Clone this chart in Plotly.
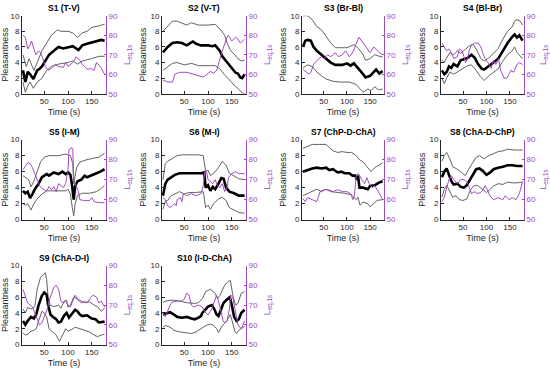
import plotly.graph_objects as go

TITLES = ["S1 (T-V)", "S2 (V-T)", "S3 (Br-Bl)", "S4 (Bl-Br)", "S5 (I-M)",
          "S6 (M-I)", "S7 (ChP-D-ChA)", "S8 (ChA-D-ChP)", "S9 (ChA-D-I)", "S10 (I-D-ChA)"]
X_TICKS = [50, 100, 150]
Y_TICKS = [0, 2, 4, 6, 8, 10]
LEQ_TICKS = [50, 60, 70, 80, 90]

# (time s, value) readings
S1_MEAN = [(5,3.0),(10,1.5),(15,2.8),(20,2.5),(27,1.9),(35,3.0),(40,3.2),(45,3.5),(55,4.5),(60,5.0),(70,5.5),(80,6.0),(90,5.8),(100,6.0),(110,6.1),(122,5.6),(130,6.2),(140,6.4),(150,6.6),(160,6.8),(170,6.9),(177,6.8)]
S1_UP = [(5,5.0),(12,3.5),(18,4.5),(28,3.0),(35,4.0),(45,5.5),(55,6.5),(65,7.5),(78,8.2),(85,8.0),(100,8.0),(110,7.8),(120,7.2),(130,7.8),(140,8.0),(150,8.5),(165,8.7),(177,8.9)]
S1_LO = [(5,1.5),(10,0.2),(15,1.0),(20,1.5),(27,0.7),(35,1.5),(45,2.0),(55,3.0),(65,3.5),(80,3.8),(100,4.0),(110,4.2),(120,3.8),(130,4.2),(150,4.5),(165,4.8),(177,4.8)]
S1_LEQ = [(5,80),(10,79),(15,73),(20,75),(23,77),(28,73),(32,70),(38,72),(42,71),(47,68),(52,64),(58,62),(65,63),(72,65),(80,64),(90,63.5),(95,66),(100,64),(110,66),(117,69),(125,67),(130,65),(135,64),(140,62.5),(148,63),(155,62),(160,66),(168,64),(172,62),(177,60)]

S2_MEAN = [(5,5.3),(15,6.0),(25,6.5),(35,6.6),(45,6.5),(55,6.2),(60,6.4),(68,6.7),(75,6.4),(85,6.2),(100,6.2),(110,6.1),(115,6.2),(120,5.8),(125,5.5),(130,4.8),(140,4.0),(150,3.3),(158,2.7),(163,2.6),(168,2.1),(172,2.0),(177,2.5)]
S2_UP = [(5,8.0),(15,8.7),(25,9.3),(35,9.3),(45,9.0),(55,8.8),(65,9.1),(72,9.0),(80,8.8),(100,8.8),(115,8.9),(125,8.3),(135,7.5),(140,6.5),(148,5.5),(155,5.1),(163,4.5),(170,4.2),(177,4.3)]
S2_LO = [(5,3.0),(15,3.5),(25,3.9),(35,4.0),(50,3.7),(65,3.9),(80,3.6),(100,3.6),(115,3.6),(125,3.2),(135,2.4),(145,1.8),(155,1.1),(163,0.7),(172,0.1),(177,0.0)]
S2_LEQ = [(5,57),(15,56),(25,56),(30,60),(40,61),(55,61),(70,60),(90,58.5),(98,60),(105,61.5),(112,60.5),(118,62),(123,66),(130,72),(140,79),(143,80),(150,77),(158,79),(163,78),(168,76),(177,78)]

S3_MEAN = [(5,6.0),(10,6.8),(15,6.9),(22,6.8),(28,6.0),(35,5.5),(45,5.0),(55,4.5),(65,4.0),(75,3.7),(90,3.7),(100,3.9),(108,3.6),(115,3.9),(120,3.5),(128,3.0),(135,2.5),(140,2.1),(150,2.3),(158,2.8),(163,3.1),(170,2.6),(177,2.9)]
S3_UP = [(5,10.0),(15,10.0),(25,9.5),(35,8.6),(45,8.2),(55,7.3),(65,6.5),(75,5.9),(100,5.9),(115,6.3),(125,5.8),(135,5.0),(140,4.3),(150,4.5),(160,5.0),(170,4.8),(177,4.7)]
S3_LO = [(5,3.3),(15,3.7),(25,3.5),(35,2.8),(45,2.3),(55,1.9),(70,1.6),(85,1.5),(105,1.5),(120,1.2),(130,0.5),(135,0.2),(145,0.6),(152,0.4),(160,0.9),(168,0.5),(177,0.6)]
S3_LEQ = [(5,62.5),(12,61),(18,60),(22,61),(28,65),(35,67),(45,69),(50,68),(58,70),(65,69),(75,71),(82,69),(90,70),(97,72),(105,69),(112,71),(122,77),(126,79),(132,77),(138,75),(145,73),(150,71),(158,74),(165,72),(170,71),(177,70)]

S4_MEAN = [(5,3.0),(10,2.5),(15,2.8),(20,3.5),(25,3.3),(30,3.8),(38,3.5),(45,4.3),(55,4.5),(60,4.6),(68,5.0),(75,4.6),(82,3.8),(90,3.2),(95,3.1),(105,3.5),(115,4.0),(125,4.5),(135,5.5),(145,6.5),(155,7.3),(160,7.6),(165,7.2),(170,7.5),(177,6.8)]
S4_UP = [(5,4.3),(10,4.0),(15,4.6),(22,5.3),(30,5.0),(38,5.5),(45,5.2),(55,5.7),(65,6.2),(72,6.3),(80,5.5),(88,4.5),(95,4.2),(105,4.6),(115,5.2),(125,5.8),(135,7.0),(145,8.0),(155,8.6),(160,9.3),(165,9.5),(172,9.3),(177,8.8)]
S4_LO = [(5,2.0),(10,1.3),(15,2.0),(22,2.8),(30,2.5),(38,2.8),(50,3.2),(60,3.6),(68,3.7),(78,3.0),(87,2.2),(95,1.7),(105,2.3),(115,2.7),(125,3.2),(135,4.2),(145,5.0),(155,5.5),(160,6.0),(165,5.3),(172,4.8),(177,4.5)]
S4_LEQ = [(5,76),(10,74),(15,72),(20,73),(25,71),(30,68),(38,69),(42,73),(48,72),(52,69),(55,66),(60,68),(63,72),(68,75),(75,76),(82,76),(88,74),(92,71),(97,68),(103,66),(110,63),(115,67),(120,65),(126,68),(130,62),(138,58),(143,58),(148,60),(152,62),(158,61),(165,65),(170,66),(177,65)]

S5_MEAN = [(5,3.6),(10,3.3),(15,3.5),(20,2.7),(25,3.2),(30,3.8),(38,4.5),(45,5.3),(55,5.7),(60,5.5),(70,5.9),(80,5.7),(88,6.0),(95,5.7),(100,5.9),(105,5.6),(108,4.5),(112,2.5),(115,4.2),(120,4.8),(128,5.0),(135,5.5),(140,5.3),(150,5.6),(160,5.8),(168,6.0),(177,6.3)]
S5_UP = [(5,5.5),(12,5.2),(17,5.0),(22,4.1),(28,4.8),(35,6.0),(42,7.2),(50,7.8),(60,8.0),(80,8.0),(95,8.2),(105,8.0),(110,7.0),(112,4.5),(118,6.5),(125,7.2),(140,7.5),(155,7.7),(165,7.8),(177,8.3)]
S5_LO = [(5,2.0),(10,1.8),(15,2.0),(22,1.2),(28,2.0),(35,2.6),(45,3.2),(55,3.6),(70,3.6),(85,3.6),(95,3.6),(100,3.8),(105,3.2),(109,1.5),(112,0.5),(115,2.0),(120,3.0),(130,3.3),(145,3.3),(160,3.5),(168,3.8),(177,4.3)]
S5_LEQ = [(5,75),(10,77),(15,78.5),(20,78),(25,76),(30,73),(35,70),(40,67),(45,65.5),(55,64.5),(60,66.5),(65,65),(70,66.5),(75,64),(80,68),(85,67),(90,66),(95,68),(100,75),(102,85),(108,86),(110,85),(112,70),(115,68),(118,66),(122,64),(125,60),(135,59.5),(145,59.5),(150,61),(155,59),(165,58.5),(177,58.5)]

S6_MEAN = [(5,3.0),(10,4.5),(15,5.0),(20,5.2),(30,5.6),(40,5.8),(55,5.8),(70,5.8),(85,5.8),(92,5.9),(95,4.0),(100,4.3),(105,3.6),(110,4.1),(115,3.8),(122,4.5),(128,5.2),(133,5.1),(138,4.0),(145,3.5),(155,3.3),(165,3.0),(177,3.0)]
S6_UP = [(5,5.0),(10,7.0),(15,7.3),(25,7.6),(35,8.0),(45,8.1),(60,8.1),(80,8.1),(90,8.0),(95,6.0),(100,6.2),(105,5.5),(112,5.8),(122,6.5),(130,7.3),(138,6.8),(145,5.8),(155,5.5),(165,5.1),(177,5.0)]
S6_LO = [(5,1.3),(10,2.3),(15,2.4),(22,3.0),(30,3.2),(40,3.5),(50,3.2),(60,3.4),(75,3.4),(90,3.5),(95,1.5),(100,1.8),(105,1.3),(112,2.0),(122,2.6),(130,2.8),(138,2.4),(145,1.5),(155,1.2),(165,0.9),(177,0.8)]
S6_LEQ = [(5,61),(10,60),(15,57),(20,56),(25,57),(30,58),(33,57),(35,60),(42,61),(45,59),(48,63),(55,62),(65,63),(75,62),(85,63),(90,67),(93,74),(97,74),(100,70),(105,69),(110,68),(115,70),(120,67),(125,66),(130,68),(135,64),(140,66),(143,71),(150,73),(158,74),(165,73),(177,73)]

S7_MEAN = [(5,6.0),(15,6.2),(25,6.4),(35,6.5),(45,6.4),(55,6.5),(62,6.2),(70,6.3),(80,5.9),(88,6.0),(95,5.8),(105,5.8),(112,5.5),(118,5.5),(122,5.0),(124,5.5),(127,4.0),(135,4.0),(145,3.8),(150,4.2),(160,4.3),(168,4.6),(177,4.8)]
S7_UP = [(5,8.9),(15,9.2),(25,9.4),(40,9.4),(55,9.4),(62,9.0),(70,8.6),(80,8.4),(90,8.5),(100,8.4),(110,8.4),(120,8.0),(127,7.5),(135,7.2),(145,6.5),(152,6.0),(160,6.5),(170,6.8),(177,7.1)]
S7_LO = [(5,3.0),(15,3.3),(25,3.6),(35,3.8),(45,3.5),(55,3.8),(65,3.5),(80,3.4),(95,3.3),(110,3.1),(120,2.5),(124,2.8),(128,1.8),(135,2.2),(145,2.0),(150,1.6),(158,2.0),(165,2.4),(177,2.5)]
S7_LEQ = [(5,60.5),(10,59),(15,61),(25,60),(35,59),(42,64),(50,65),(60,65),(70,64),(80,65),(90,64),(100,64),(108,63),(113,60),(116,62),(120,72),(125,73),(132,70),(138,68),(143,71),(148,68),(155,66),(160,67),(168,64),(177,60)]

S8_MEAN = [(5,5.3),(10,6.0),(15,6.4),(20,5.5),(25,4.8),(30,4.4),(38,4.5),(45,4.1),(52,4.0),(58,4.3),(65,5.0),(72,5.8),(78,6.3),(85,6.4),(92,6.1),(100,5.6),(108,5.9),(115,6.3),(125,6.5),(135,6.6),(145,6.8),(155,6.8),(165,6.7),(177,6.7)]
S8_UP = [(5,7.3),(10,8.0),(15,8.4),(22,7.6),(28,6.6),(35,6.4),(45,6.0),(50,5.7),(55,5.5),(62,6.3),(70,7.0),(78,7.8),(85,8.0),(95,7.6),(105,8.0),(115,8.3),(125,8.5),(135,8.6),(145,8.8),(160,8.7),(177,8.7)]
S8_LO = [(5,2.8),(10,3.8),(15,4.3),(20,3.7),(28,2.8),(35,3.0),(42,2.5),(50,2.4),(58,2.6),(65,3.6),(72,4.2),(80,4.3),(90,3.8),(100,3.4),(108,3.8),(115,4.2),(125,4.5),(135,4.4),(145,4.7),(155,4.6),(165,4.6),(177,4.7)]
S8_LEQ = [(5,59),(10,61),(15,66),(20,70),(25,72),(30,70),(38,68),(45,70),(52,70),(58,69),(62,67),(68,63),(75,64),(82,63),(90,64),(97,67),(102,65),(107,62),(115,60),(125,61),(135,60),(140,62),(148,60),(155,61),(163,60),(170,63),(177,69)]

S9_MEAN = [(5,3.0),(10,2.5),(15,3.0),(22,3.5),(28,3.3),(33,3.8),(38,5.0),(45,6.2),(50,6.6),(55,6.3),(58,5.0),(63,3.8),(68,3.5),(75,3.2),(80,2.8),(85,2.9),(92,3.7),(97,4.0),(102,3.4),(108,3.8),(115,4.4),(120,4.2),(125,3.8),(130,3.6),(140,3.7),(150,3.3),(158,3.2),(165,2.8),(177,2.9)]
S9_UP = [(5,4.5),(10,4.0),(15,4.7),(22,4.5),(30,4.8),(35,7.0),(42,8.5),(48,8.9),(52,9.1),(55,8.2),(58,6.0),(62,5.0),(70,4.8),(80,5.0),(85,4.6),(92,5.5),(97,5.6),(100,4.7),(105,5.0),(112,6.0),(120,5.8),(128,5.5),(135,5.3),(145,5.4),(155,5.0),(162,4.8),(170,4.2),(177,4.6)]
S9_LO = [(5,1.5),(10,1.2),(15,1.3),(22,1.7),(28,1.8),(33,2.0),(38,3.0),(45,4.2),(50,4.0),(55,3.5),(60,2.0),(68,1.5),(75,1.2),(82,0.4),(88,1.2),(95,2.0),(100,1.7),(108,1.9),(115,2.2),(125,2.0),(135,1.8),(145,1.6),(155,1.2),(162,1.0),(170,1.2),(177,1.3)]
S9_LEQ = [(5,78),(10,75),(15,71),(20,70),(25,69),(30,66),(35,63),(40,60),(45,61),(50,64),(55,67),(60,72),(65,76),(70,79),(75,80),(80,78),(85,72),(90,71),(95,72),(100,70),(105,69),(110,72),(115,75),(120,73),(128,71),(135,72),(140,71),(148,74),(153,75),(160,74),(165,71),(170,72),(177,69)]

S10_MEAN = [(5,3.8),(10,3.9),(15,4.0),(20,4.1),(28,3.8),(35,3.5),(45,3.4),(55,3.5),(65,3.3),(72,3.2),(80,3.4),(85,3.6),(88,4.0),(95,4.5),(100,4.8),(108,5.0),(113,4.5),(118,3.8),(122,3.6),(126,4.2),(132,5.2),(138,5.6),(143,5.8),(146,6.0),(150,5.0),(155,3.5),(160,3.0),(165,3.2),(170,4.0),(177,4.4)]
S10_UP = [(5,5.3),(10,5.5),(20,5.6),(30,5.6),(40,5.5),(55,5.3),(70,5.2),(80,5.3),(88,5.8),(95,6.7),(105,7.0),(115,6.5),(120,5.8),(125,6.2),(135,7.5),(143,8.0),(147,8.1),(153,6.0),(158,5.0),(163,5.2),(170,6.5),(177,6.7)]
S10_LO = [(5,2.2),(10,2.4),(20,2.2),(28,1.8),(40,1.6),(55,1.5),(65,1.4),(75,1.6),(85,2.0),(95,2.4),(105,2.6),(112,2.4),(118,2.0),(122,1.5),(130,2.4),(140,3.0),(147,3.8),(152,2.5),(157,1.6),(160,1.4),(165,1.8),(177,2.3)]
S10_LEQ = [(5,66),(10,64),(15,67),(20,70),(25,71.5),(35,72),(45,72),(50,73),(55,76),(60,75),(65,70),(70,69),(80,70),(88,69),(95,66),(100,65),(108,68),(115,73),(118,75),(122,72),(128,65),(132,62),(135,61),(140,62),(145,68),(148,75),(152,74),(155,70),(158,65),(163,60),(170,58),(177,62)]

PANELS = [
    (S1_MEAN, S1_UP, S1_LO, S1_LEQ), (S2_MEAN, S2_UP, S2_LO, S2_LEQ),
    (S3_MEAN, S3_UP, S3_LO, S3_LEQ), (S4_MEAN, S4_UP, S4_LO, S4_LEQ),
    (S5_MEAN, S5_UP, S5_LO, S5_LEQ), (S6_MEAN, S6_UP, S6_LO, S6_LEQ),
    (S7_MEAN, S7_UP, S7_LO, S7_LEQ), (S8_MEAN, S8_UP, S8_LO, S8_LEQ),
    (S9_MEAN, S9_UP, S9_LO, S9_LEQ), (S10_MEAN, S10_UP, S10_LO, S10_LEQ),
]

W, H = 550, 372
COL_PX = [(22, 106), (162, 246), (302, 384), (441, 524)]
ROW_PX = [(12, 92), (139, 221), (268, 349)]
PURPLE = "#a04cbf"
INK = "#262626"
FONT = "Liberation Sans, Arial, sans-serif"

fig = go.Figure()
layout = {}
annotations = []

def nm(prefix, n):
    return prefix if n == 1 else f"{prefix}{n}"

for i, (mean, up, lo, leq) in enumerate(PANELS):
    r, c = divmod(i, 4)
    k = i + 1
    xn = nm("x", k)
    yp = nm("y", 2 * i + 1)
    ys = nm("y", 2 * i + 2)
    for series, color, width in ((up, "#505050", 0.9), (lo, "#505050", 0.9), (mean, "black", 2.6)):
        fig.add_trace(go.Scatter(x=[p[0] for p in series], y=[p[1] for p in series],
                                 mode="lines", line=dict(color=color, width=width),
                                 xaxis=xn, yaxis=yp, showlegend=False, hoverinfo="skip"))
    fig.add_trace(go.Scatter(x=[p[0] for p in leq], y=[p[1] for p in leq],
                             mode="lines", line=dict(color=PURPLE, width=1),
                             xaxis=xn, yaxis=ys, showlegend=False, hoverinfo="skip"))
    x0, x1 = COL_PX[c]
    y0, y1 = ROW_PX[r]
    layout[nm("xaxis", k)] = dict(
        domain=[x0 / W, x1 / W], anchor=yp, range=[3, 180], tickvals=X_TICKS,
        ticks="inside", ticklen=2.5, tickcolor=INK, showline=True, linecolor=INK, linewidth=1,
        showgrid=False, zeroline=False, tickfont=dict(size=8, color=INK, family=FONT),
        title=dict(text="Time (s)", font=dict(size=9, color=INK, family=FONT), standoff=3))
    layout[nm("yaxis", 2 * i + 1)] = dict(
        domain=[1 - y1 / H, 1 - y0 / H], anchor=xn, range=[0, 10], tickvals=Y_TICKS,
        ticks="inside", ticklen=2.5, tickcolor=INK, showline=True, linecolor=INK, linewidth=1,
        showgrid=False, zeroline=False, tickfont=dict(size=8, color=INK, family=FONT),
        title=dict(text="Pleasantness", font=dict(size=9, color=INK, family=FONT), standoff=2))
    layout[nm("yaxis", 2 * i + 2)] = dict(
        overlaying=yp, side="right", anchor=xn, range=[50, 90], tickvals=LEQ_TICKS,
        ticks="inside", ticklen=2.5, tickcolor=PURPLE, showline=True, linecolor=PURPLE, linewidth=1,
        showgrid=False, zeroline=False, tickfont=dict(size=8, color=PURPLE, family=FONT),
        title=dict(text="L<sub>eq,1s</sub>", font=dict(size=9, color=PURPLE, family=FONT), standoff=6))
    annotations.append(dict(
        text=f"<b>{TITLES[i]}</b>", xref="paper", yref="paper",
        x=(x0 + x1) / 2 / W, y=1 - (y0 - 1) / H, xanchor="center", yanchor="bottom",
        showarrow=False, font=dict(size=8.5, color="black", family=FONT)))

fig.update_layout(width=W, height=H, margin=dict(l=0, r=0, t=0, b=0),
                  paper_bgcolor="white", plot_bgcolor="white",
                  annotations=annotations, **layout)
fig.write_html("out.html", config={"displayModeBar": False},
               post_script="document.body.style.margin='0';document.body.style.padding='0';")
